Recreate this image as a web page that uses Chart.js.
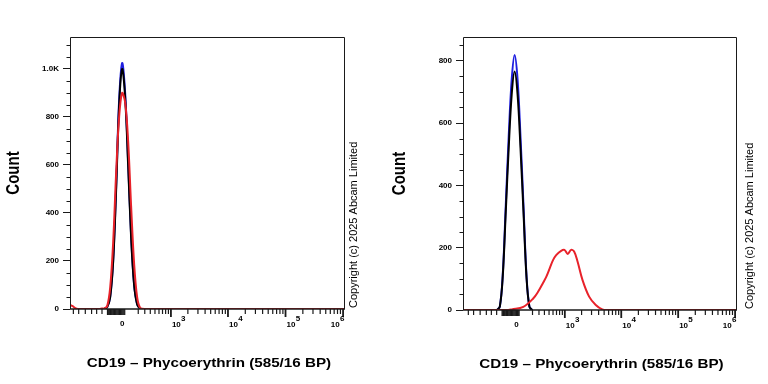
<!DOCTYPE html>
<html>
<head>
<meta charset="utf-8">
<script src="https://cdn.jsdelivr.net/npm/chart.js@4/dist/chart.umd.min.js"></script>
<style>
  html, body { margin: 0; padding: 0; background: #fff; }
  #wrap { position: relative; width: 768px; height: 384px; }
  canvas { position: absolute; top: 0; }
</style>
</head>
<body>
<div id="wrap">
  <canvas id="left" width="384" height="384" style="left:0"></canvas>
  <canvas id="right" width="384" height="384" style="left:384px"></canvas>
</div>
<script>
// ---- axis ticks (biexponential x, linear y) ----
const xMajor = [1e3, 1e4, 1e5, 1e6];
const xMajorExp = ['3', '4', '5', '6'];
const xNegMinor = [-1000, -800, -600, -450, -350, -260];
const leftYTicks = [0, 200, 400, 600, 800, 1000];
const rightYTicks = [0, 200, 400, 600, 800];

// ---- left panel: unstained / isotype / CD19 all near zero ----
const leftPeakX = [-227, -184, -144, -106, -70, -35, 0, 35, 70, 106, 144, 184, 227];
const leftBlue  = [0, 8, 52, 205, 515, 870, 1025, 900, 615, 308, 103, 21, 0];
const leftBlack = [0, 8, 50, 200, 500, 850, 1000, 880, 600, 300, 100, 20, 0];
const leftRedX  = [-1140, -1027, -943, -867, -797, -400, -300, -260, -227, -184, -144, -106, -70, -35, 0, 35, 70, 106, 144, 184, 227, 300, 1080000];
const leftRed   = [17, 12, 5, 1, 0, 0, 0, 2, 2, 12, 90, 280, 570, 800, 900, 860, 700, 430, 190, 50, 5, 0, 0];

// ---- right panel: CD19 positive population shifted to ~10^3 ----
const rightPeakX = [-257, -212, -171, -131, -94, -58, -23, 12, 46, 82, 119, 157, 198];
const rightBlue  = [0, 11, 112, 335, 556, 738, 818, 738, 556, 335, 112, 11, 0];
const rightBlack = [0, 11, 107, 315, 520, 690, 765, 690, 520, 315, 107, 11, 0];
const rightRedX  = [-1240, -100, -56, 80, 210, 290, 370, 440, 520, 600, 690, 855, 985, 1130, 1300, 1480, 1700, 2080, 2720, 3560, 4630, 5600, 1080000];
const rightRed   = [0, 0, 2, 10, 37, 60, 86, 107, 135, 160, 176, 190, 193, 180, 193, 187, 155, 96, 43, 16, 2, 0, 0];

const BLUE = '#1f1fe0', BLACK = '#000000', RED = '#e8222a';
const FONT = '"Liberation Sans", Arial, sans-serif';

// arcsinh display transform
const W = 290;
const tf = v => Math.asinh(v / W);
const itf = t => Math.sinh(t) * W;

class BiexScale extends Chart.Scale {
  determineDataLimits() {
    this.min = this.options.min;
    this.max = this.options.max;
  }
  buildTicks() {
    return xMajor.map(v => ({ value: v }));
  }
  configure() {
    super.configure();
    this._t0 = tf(this.min);
    this._t1 = tf(this.max);
  }
  getPixelForValue(v) {
    return this.getPixelForDecimal((tf(v) - this._t0) / (this._t1 - this._t0));
  }
  getValueForPixel(p) {
    return itf(this._t0 + this.getDecimalForPixel(p) * (this._t1 - this._t0));
  }
  getLabelForValue(v) { return String(v); }
}
BiexScale.id = 'biex';
BiexScale.defaults = {};
Chart.register(BiexScale);

function pts(xs, ys) {
  return xs.map((x, i) => ({ x: x, y: ys[i] }));
}

const deco = {
  id: 'deco',
  afterDatasetsDraw(chart, args, o) {
    const { ctx, chartArea: a, scales: { x, y } } = chart;
    ctx.save();
    ctx.strokeStyle = '#1a1a1a';
    ctx.fillStyle = '#000';

    // frame
    ctx.lineWidth = 1;
    ctx.beginPath();
    ctx.moveTo(a.left + 0.5, a.bottom);
    ctx.lineTo(a.left + 0.5, a.top + 0.5);
    ctx.lineTo(a.right - 0.5, a.top + 0.5);
    ctx.lineTo(a.right - 0.5, a.bottom);
    ctx.stroke();
    ctx.lineWidth = 1.6;
    ctx.beginPath();
    ctx.moveTo(a.left, a.bottom);
    ctx.lineTo(a.right, a.bottom);
    ctx.stroke();

    // y minor ticks
    ctx.lineWidth = 1;
    ctx.beginPath();
    for (let v = 50; v <= y.max; v += 50) {
      if (v % 200 === 0) continue;
      const py = Math.round(y.getPixelForValue(v)) + 0.5;
      ctx.moveTo(a.left - 3.5, py);
      ctx.lineTo(a.left, py);
    }
    ctx.stroke();

    // x ticks
    const tick = (v, len, w) => {
      const px = x.getPixelForValue(v);
      ctx.lineWidth = w;
      ctx.beginPath();
      ctx.moveTo(px, a.bottom);
      ctx.lineTo(px, a.bottom + len);
      ctx.stroke();
    };
    xNegMinor.forEach(v => tick(v, 5, 1.2));
    for (let v = -180; v <= 30; v += 10) tick(v, 6, 1.2);
    for (let d = 100; d < 1e6; d *= 10) {
      for (let k = 2; k <= 9; k++) tick(k * d, 5, 1.2);
    }
    xMajor.forEach(v => tick(v, 8, 1.8));

    // x tick labels
    const base = 'bold 8px ' + FONT;
    const sup = 'bold 8px ' + FONT;
    ctx.textBaseline = 'middle';
    ctx.font = base;
    ctx.textAlign = 'center';
    ctx.fillText('0', x.getPixelForValue(0), a.bottom + 14.5);
    xMajor.forEach((v, i) => {
      const px = x.getPixelForValue(v);
      ctx.font = base;
      const bw = ctx.measureText('10').width;
      ctx.font = sup;
      const ew = ctx.measureText(xMajorExp[i]).width;
      let left = px + 1;
      if (i === xMajor.length - 1) left = px + 1 - bw - ew;
      ctx.textAlign = 'left';
      ctx.font = base;
      ctx.fillText('10', left, a.bottom + 15.5);
      ctx.font = sup;
      ctx.fillText(xMajorExp[i], left + bw + 0.3, a.bottom + 9.5);
    });

    // x title
    const sx = 1.17;
    ctx.font = 'bold 13px ' + FONT;
    ctx.textAlign = 'center';
    ctx.save();
    ctx.translate((a.left + a.right) / 2 + 1.5, a.bottom + 54);
    ctx.scale(sx, 1);
    ctx.fillText('CD19 \u2013 Phycoerythrin (585/16 BP)', 0, 0);
    ctx.restore();

    // y title
    ctx.font = 'bold 15px ' + FONT;
    ctx.save();
    ctx.translate(o.countX, (a.top + a.bottom) / 2);
    ctx.scale(sx, 1);
    ctx.rotate(-Math.PI / 2);
    ctx.fillText('Count', 0, 0);
    ctx.restore();

    // copyright
    ctx.font = '11px ' + FONT;
    ctx.textAlign = 'left';
    ctx.save();
    ctx.translate(o.copyX, a.bottom - 1);
    ctx.rotate(-Math.PI / 2);
    ctx.fillText('Copyright (c) 2025 Abcam Limited', 0, 0);
    ctx.restore();

    ctx.restore();
  }
};

function makeChart(id, sets, yMax, yTicks, xMin, pad, yWidth, xHeight, countX, copyX) {
  return new Chart(document.getElementById(id), {
    type: 'line',
    data: {
      datasets: sets.map(s => ({
        data: pts(s[0], s[1]),
        borderColor: s[2],
        borderWidth: 2,
        pointRadius: 0,
        tension: 0.35,
        fill: false
      }))
    },
    options: {
      responsive: false,
      animation: false,
      events: [],
      layout: { padding: pad },
      plugins: {
        legend: { display: false },
        tooltip: { enabled: false },
        deco: { countX: countX, copyX: copyX }
      },
      scales: {
        x: {
          type: 'biex',
          min: xMin,
          max: 1080000,
          grid: { display: false },
          border: { display: false },
          ticks: { display: false },
          afterFit: s => { s.height = xHeight; }
        },
        y: {
          type: 'linear',
          min: 0,
          max: yMax,
          afterBuildTicks: s => { s.ticks = yTicks.map(v => ({ value: v })); },
          afterFit: s => { s.width = yWidth; },
          border: { display: false },
          grid: { drawOnChartArea: false, tickLength: 7, color: '#1a1a1a', lineWidth: 1 },
          ticks: {
            padding: 4,
            color: '#000',
            font: { family: FONT, size: 8, weight: 'bold' },
            callback: v => v >= 1000 ? (v / 1000).toFixed(1) + 'K' : String(v)
          }
        }
      }
    },
    plugins: [deco]
  });
}

makeChart('left',
  [[leftRedX, leftRed, RED], [leftPeakX, leftBlack, BLACK], [leftPeakX, leftBlue, BLUE]],
  1133, leftYTicks, -1150,
  { left: 0, top: 37, right: 39, bottom: 0 }, 70, 75, 14, 354);

makeChart('right',
  [[rightRedX, rightRed, RED], [rightPeakX, rightBlack, BLACK], [rightPeakX, rightBlue, BLUE]],
  876, rightYTicks, -1250,
  { left: 0, top: 37, right: 31, bottom: 0 }, 79, 74, 16, 366);
</script>
</body>
</html>
